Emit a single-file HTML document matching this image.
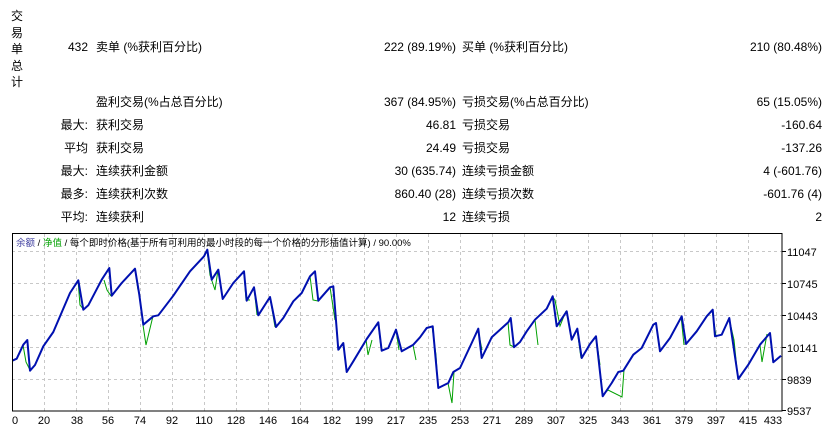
<!DOCTYPE html><html><head><meta charset="utf-8"><style>
body{margin:0;width:836px;height:432px;background:#fff;font-family:"Liberation Sans","Noto Sans CJK SC",sans-serif;font-size:12px;color:#000;position:relative;overflow:hidden}
.t{position:absolute;white-space:nowrap;line-height:14px}
.r{text-align:right}
</style></head><body>
<div class="t" style="left:11px;top:8px;width:14px;line-height:16.5px">交<br>易<br>单<br>总<br>计</div>
<div class="t r" style="left:40px;top:40px;width:48px">432</div>
<div class="t" style="left:96px;top:40px">卖单 (%获利百分比)</div>
<div class="t r" style="left:300px;top:40px;width:156px">222 (89.19%)</div>
<div class="t" style="left:462px;top:40px">买单 (%获利百分比)</div>
<div class="t r" style="left:660px;top:40px;width:162px">210 (80.48%)</div>

<div class="t" style="left:96px;top:95px">盈利交易(%占总百分比)</div>
<div class="t r" style="left:300px;top:95px;width:156px">367 (84.95%)</div>
<div class="t" style="left:462px;top:95px">亏损交易(%占总百分比)</div>
<div class="t r" style="left:660px;top:95px;width:162px">65 (15.05%)</div>

<div class="t r" style="left:40px;top:118px;width:48px">最大:</div>
<div class="t" style="left:96px;top:118px">获利交易</div>
<div class="t r" style="left:300px;top:118px;width:156px">46.81</div>
<div class="t" style="left:462px;top:118px">亏损交易</div>
<div class="t r" style="left:660px;top:118px;width:162px">-160.64</div>

<div class="t r" style="left:40px;top:141px;width:48px">平均</div>
<div class="t" style="left:96px;top:141px">获利交易</div>
<div class="t r" style="left:300px;top:141px;width:156px">24.49</div>
<div class="t" style="left:462px;top:141px">亏损交易</div>
<div class="t r" style="left:660px;top:141px;width:162px">-137.26</div>

<div class="t r" style="left:40px;top:164px;width:48px">最大:</div>
<div class="t" style="left:96px;top:164px">连续获利金额</div>
<div class="t r" style="left:300px;top:164px;width:156px">30 (635.74)</div>
<div class="t" style="left:462px;top:164px">连续亏损金额</div>
<div class="t r" style="left:660px;top:164px;width:162px">4 (-601.76)</div>

<div class="t r" style="left:40px;top:187px;width:48px">最多:</div>
<div class="t" style="left:96px;top:187px">连续获利次数</div>
<div class="t r" style="left:300px;top:187px;width:156px">860.40 (28)</div>
<div class="t" style="left:462px;top:187px">连续亏损次数</div>
<div class="t r" style="left:660px;top:187px;width:162px">-601.76 (4)</div>

<div class="t r" style="left:40px;top:210px;width:48px">平均:</div>
<div class="t" style="left:96px;top:210px">连续获利</div>
<div class="t r" style="left:300px;top:210px;width:156px">12</div>
<div class="t" style="left:462px;top:210px">连续亏损</div>
<div class="t r" style="left:660px;top:210px;width:162px">2</div>

<svg style="position:absolute;left:0;top:0" width="836" height="432">
<g stroke="#c8c8c8" stroke-dasharray="3,3" stroke-width="1">
<path d="M12 251.5H782M12 283.5H782M12 315.5H782M12 347.5H782M12 379.5H782"/>
<path d="M44.5 234V411M76.5 234V411M108.5 234V411M140.5 234V411M172.5 234V411M204.5 234V411M236.5 234V411M268.5 234V411M300.5 234V411M332.5 234V411M364.5 234V411M396.5 234V411M428.5 234V411M460.5 234V411M492.5 234V411M524.5 234V411M556.5 234V411M588.5 234V411M620.5 234V411M652.5 234V411M684.5 234V411M716.5 234V411M748.5 234V411"/>
</g>
<g stroke="#00a000" fill="none" stroke-width="1">
<path d="M23 345L26 362L30 370M78 280L80 305L84 310M104 280L107 290L111 296M135 269L138 290M143 325L146 345L153 316M207 250L210 275L215 290L218 270M222 299M244 272L246 300L250 300M254 287L257 315M270 297L275 327M310 276L313 300L318 301M330 287L335 320M339 350L343 343M366 339L368 355L372 340M378 322L381 348M396 330L399 350M413 345L416 360M420 339M432 326L436 355L438 388M448 383L452 403L454 372M478 329L482 350M508 322L510 345L514 347M535 320L538 345M552 296L555 300L560 326L566 311M577 329L581 358M596 336L600 365M602 396L608 390L622 397L624 370M656 323L660 351M681 316L684 345M712 310L716 336M729 318L734 340L738 379M760 345L762 362L767 334M770 333L773 362"/>
</g>
<polyline fill="none" stroke="#0010b0" stroke-width="2" stroke-linejoin="round" points="12.3,360.7 16.7,358.7 23.3,344.7 27.3,340 30,370.7 35,365 43.3,346.3 53.3,332 70,293 78.3,280.3 83.3,309.7 88.3,305.3 101.7,279.7 109.3,268 111.7,295.7 121.7,283 135,268.7 139.3,294.7 143.3,324.7 153.3,316.3 158.3,315.3 173.3,295.7 190,271.3 204,256.3 207.3,249.7 211.7,279.7 218.3,269.7 222.7,299 233.3,283 244,271.3 246.7,300.7 254,287.3 258.3,315.3 270,297 276,327 283.3,318 293.3,301.3 301.7,293 310,276.3 315,271.3 318.3,300.7 330,287.3 333.3,286.3 338.3,349.7 343.3,343 346.7,372 353.3,361.3 366.7,339 378.3,322.3 381.7,350.7 388.3,348 396,329.7 401.7,351.3 413.3,344.7 420,337.3 426.7,328 432.7,326.3 438.3,388 448.3,383 453.3,372 460,368 471.7,343 478.3,328.7 481.7,358 491.7,337.3 508.3,322.3 510.7,318 514,347.3 520,342 526.7,331.3 535,319.7 546.7,308.7 552.7,296.3 556.7,326.3 566.7,311.3 571.7,339.7 577.3,328.7 581.7,358 590,344 596,336.3 602.7,396.3 611.7,383 618.3,372 623.3,370.7 633.3,354.7 641.7,348 653.3,324.7 656,323 660,351.3 670,338 681.7,316.3 686,344 696.7,331.3 706.7,316.3 712.7,309.7 715,336.3 721.7,334.7 729.3,318 738.3,379 748.3,364.7 760,344.7 770,333 773.3,362.3 781,355.7"/>
<rect x="12.5" y="233.5" width="769.5" height="177.5" fill="none" stroke="#000" stroke-width="1"/>
<g stroke="#000"><path d="M782 251.5h4M782 283.5h4M782 315.5h4M782 347.5h4M782 379.5h4M782 410.5h4"/></g>
<g font-family="Liberation Sans,sans-serif" font-size="11" fill="#000">
<text x="787" y="256">11047</text><text x="787" y="288">10745</text><text x="787" y="320">10443</text><text x="787" y="352">10141</text><text x="787" y="384">9839</text><text x="787" y="415">9537</text>
<g text-anchor="middle">
<text x="15" y="424">0</text><text x="44" y="424">20</text><text x="77" y="424">38</text><text x="108" y="424">56</text><text x="140" y="424">74</text><text x="172" y="424">92</text><text x="204" y="424">110</text><text x="236" y="424">128</text><text x="268" y="424">146</text><text x="300" y="424">164</text><text x="332" y="424">182</text><text x="364" y="424">199</text><text x="396" y="424">217</text><text x="428" y="424">235</text><text x="460" y="424">253</text><text x="492" y="424">271</text><text x="524" y="424">289</text><text x="556" y="424">307</text><text x="588" y="424">325</text><text x="620" y="424">343</text><text x="652" y="424">361</text><text x="684" y="424">379</text><text x="716" y="424">397</text><text x="748" y="424">415</text><text x="773" y="424">433</text>
</g></g>
<text x="16" y="246" font-family="Liberation Sans,Noto Sans CJK SC,sans-serif" font-size="9.5"><tspan fill="#4040a0">余额</tspan><tspan fill="#000"> / </tspan><tspan fill="#00a000">净值</tspan><tspan fill="#000"> / 每个即时价格(基于所有可利用的最小时段的每一个价格的分形插值计算) / 90.00%</tspan></text>
</svg>
</body></html>
